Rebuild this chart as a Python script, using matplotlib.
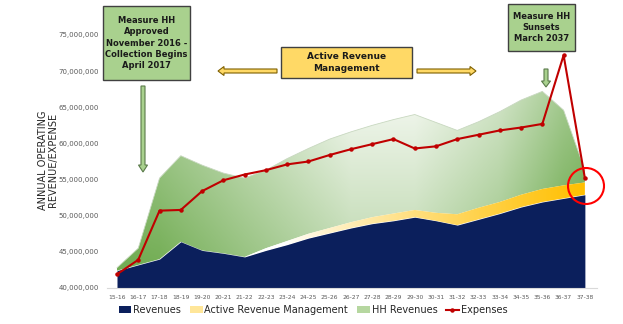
import numpy as np
import matplotlib.pyplot as plt
from matplotlib.patches import Patch, FancyBboxPatch, FancyArrow, Circle
from matplotlib.lines import Line2D
from matplotlib.ticker import FuncFormatter

years = ["15-16", "16-17", "17-18", "18-19", "19-20", "20-21", "21-22", "22-23",
         "23-24", "24-25", "25-26", "26-27", "27-28", "28-29", "29-30", "30-31",
         "31-32", "32-33", "33-34", "34-35", "35-36", "36-37", "37-38"]

# millions
revenues = [42.4, 43.2, 44.0, 46.4, 45.2, 44.8, 44.3, 45.2, 46.0, 46.9, 47.6, 48.3,
            48.9, 49.3, 49.8, 49.3, 48.7, 49.5, 50.3, 51.2, 51.9, 52.4, 52.9]
active_rev_mgmt = [0.0, 0.0, 0.0, 0.0, 0.0, 0.0, 0.0, 0.3, 0.5, 0.6, 0.7, 0.8,
                   0.9, 1.0, 1.0, 1.1, 1.5, 1.6, 1.6, 1.7, 1.8, 1.8, 1.7]
total_top = [42.8, 45.5, 55.2, 58.3, 57.0, 55.9, 55.2, 56.3, 57.9, 59.3, 60.6, 61.6,
             62.5, 63.3, 64.0, 62.9, 61.8, 63.0, 64.4, 66.0, 67.2, 64.6, 56.3]
expenses = [41.9, 43.9, 50.7, 50.8, 53.4, 54.9, 55.7, 56.3, 57.1, 57.5, 58.4, 59.2,
            59.9, 60.6, 59.3, 59.6, 60.6, 61.2, 61.8, 62.2, 62.7, 72.2, 55.2]

rev = np.array(revenues) * 1e6
arm = np.array(active_rev_mgmt) * 1e6
hh = np.array(total_top) * 1e6 - rev - arm
exp_ = np.array(expenses) * 1e6
x = np.arange(len(years))

navy = '#0b1f5c'
red = '#c00000'

fig = plt.figure(figsize=(6.23, 3.24), dpi=100)
ax = fig.add_axes([107 / 623, 1 - 288 / 324, 490 / 623, 253 / 324])
x0, x1 = -0.47, 22.57
ax.set_xlim(x0, x1)
ax.set_ylim(40e6, 75e6)

# navy revenues
ax.fill_between(x, 40e6, rev, color=navy, lw=0, zorder=2)

# yellow active revenue management with white->gold gradient
ymin, ymax = 40e6, 75e6
xs = np.linspace(x0, x1, 400)
gold = np.array([1.0, 0.75, 0.0])
ty = np.clip((xs - 8) / 14, 0, 1) ** 0.8
img = np.ones((2, 400, 4))
for i in range(3):
    img[:, :, i] = 1 + (gold[i] - 1) * ty
poly_y = ax.fill_between(x, rev, rev + arm, color='none', lw=0)
im = ax.imshow(img, extent=[x0, x1, ymin, ymax], aspect='auto', zorder=2,
               origin='lower')
im.set_clip_path(poly_y.get_paths()[0], transform=ax.transData)

# green HH revenues with gradient (lighter toward the top middle)
nx, ny = 400, 200
gx, gy = np.meshgrid(np.linspace(x0, x1, nx), np.linspace(0, 1, ny))
light_x = np.interp(gx, [-0.5, 2, 6, 11, 14, 18, 21, 23],
                    [0.15, 0.2, 0.45, 0.75, 0.75, 0.5, 0.15, 0.0])
light = np.clip(light_x + 0.6 * (gy - 0.4), 0, 1)
dark = np.array([0.45, 0.68, 0.33])
white = np.array([0.97, 0.98, 0.96])
gimg = np.ones((ny, nx, 4))
for i in range(3):
    gimg[:, :, i] = dark[i] + (white[i] - dark[i]) * light
poly_g = ax.fill_between(x, rev + arm, rev + arm + hh, color='none', lw=0)
gim = ax.imshow(gimg, extent=[x0, x1, ymin, ymax], aspect='auto', zorder=1,
                origin='lower')
gim.set_clip_path(poly_g.get_paths()[0], transform=ax.transData)
ax.plot(x, rev + arm + hh, color='#c8d8c0', lw=0.6, zorder=1)

# expenses
ax.plot(x, exp_, color=red, lw=1.5, marker='o', ms=2.2, zorder=4)

ax.set_xticks(x)
ax.set_xticklabels(years, fontsize=4.3, color='#595959')
ax.set_yticks(np.arange(40e6, 76e6, 5e6))
ax.yaxis.set_major_formatter(FuncFormatter(lambda v, p: f"{v:,.0f}"))
ax.tick_params(axis='y', labelsize=5, colors='#595959', length=0, pad=6)
ax.tick_params(axis='x', length=0, pad=5)
for s in ['top', 'right', 'left']:
    ax.spines[s].set_visible(False)
ax.spines['bottom'].set_color('#d9d9d9')

fig.text(48 / 623, 1 - 160 / 324, "ANNUAL OPERATING\nREVENUE/EXPENSE", rotation=90,
         ha='center', va='center', fontsize=7, color='#262626', linespacing=1.1)

# overlay in pixel coordinates for annotations
ov = fig.add_axes([0, 0, 1, 1])
ov.set_xlim(0, 623)
ov.set_ylim(324, 0)
ov.axis('off')
ov.patch.set_alpha(0)

box_green = '#a9d18e'
box_yellow = '#ffd966'
ov.add_patch(FancyBboxPatch((103, 6), 87, 74, boxstyle='square,pad=0',
                            fc=box_green, ec='#404040', lw=1))
ov.text(146.5, 43, "Measure HH\nApproved\nNovember 2016 -\nCollection Begins\nApril 2017",
        ha='center', va='center', fontsize=6, fontweight='bold', color='#1a1a1a',
        linespacing=1.35)
ov.add_patch(FancyBboxPatch((508, 4), 67, 47, boxstyle='square,pad=0',
                            fc=box_green, ec='#404040', lw=1))
ov.text(541.5, 27.5, "Measure HH\nSunsets\nMarch 2037", ha='center', va='center',
        fontsize=6, fontweight='bold', color='#1a1a1a', linespacing=1.35)
ov.add_patch(FancyBboxPatch((281, 47), 131, 31, boxstyle='square,pad=0',
                            fc=box_yellow, ec='#404040', lw=1))
ov.text(346.5, 62.5, "Active Revenue\nManagement", ha='center', va='center',
        fontsize=6.5, fontweight='bold', color='#1a1a1a', linespacing=1.35)

# block arrows
ov.add_patch(FancyArrow(143, 86, 0, 86, width=4, head_width=9, head_length=7,
                        length_includes_head=True, fc='#a9d18e', ec='#5a7a4a', lw=0.8))
ov.add_patch(FancyArrow(546, 69, 0, 18, width=4, head_width=9, head_length=6,
                        length_includes_head=True, fc='#a9d18e', ec='#5a7a4a', lw=0.8))
ov.add_patch(FancyArrow(277, 71, -59, 0, width=4, head_width=9, head_length=6,
                        length_includes_head=True, fc=box_yellow, ec='#7f6000', lw=0.8))
ov.add_patch(FancyArrow(417, 71, 59, 0, width=4, head_width=9, head_length=6,
                        length_includes_head=True, fc=box_yellow, ec='#7f6000', lw=0.8))

ov.add_patch(Circle((586, 186), 18, fill=False, ec='#ff0000', lw=1.5))

handles = [Patch(fc=navy, ec='none'), Patch(fc='#ffe699', ec='none'),
           Patch(fc='#b6d7a0', ec='none'),
           Line2D([], [], color=red, lw=1.5, marker='o', ms=2.2)]
labels = ["Revenues", "Active Revenue Management", "HH Revenues", "Expenses"]
fig.legend(handles, labels, loc='center', bbox_to_anchor=(313 / 623, 1 - 310 / 324),
           ncol=4, frameon=False, fontsize=7, handlelength=1.3, handleheight=0.6,
           handletextpad=0.2, columnspacing=0.9, labelcolor='#262626')

fig.savefig('out.png', dpi=100)
